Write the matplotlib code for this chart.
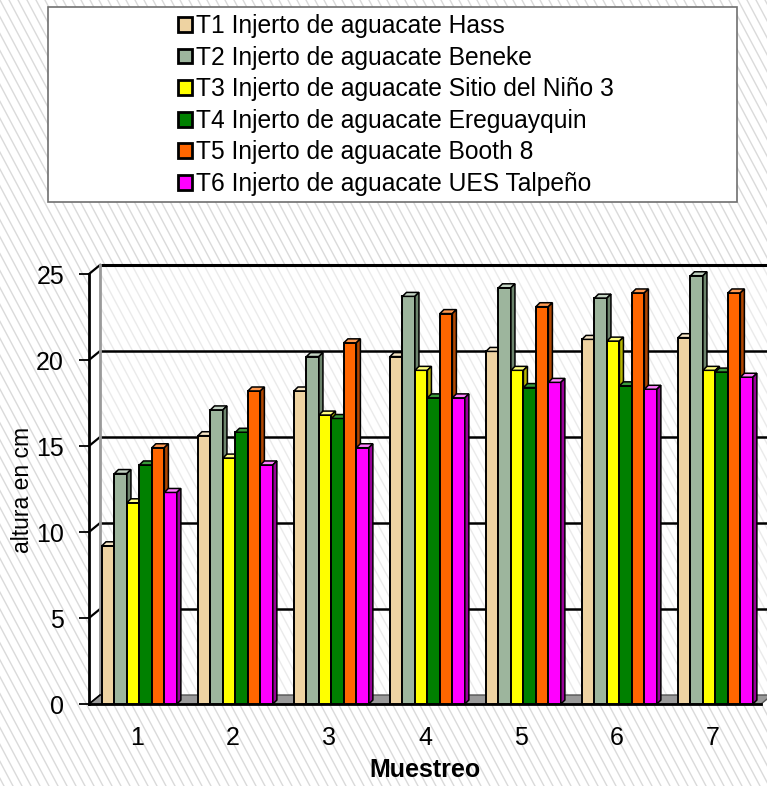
import numpy as np
import matplotlib
matplotlib.use('Agg')
import matplotlib.pyplot as plt
from matplotlib.patches import Polygon, Rectangle, Patch

plt.rcParams['font.family'] = ['Liberation Sans', 'DejaVu Sans']

# datos (altura en cm por muestreo)
muestreos = ['1', '2', '3', '4', '5', '6', '7']
t1 = [9.2, 15.6, 18.2, 20.2, 20.5, 21.2, 21.3]
t2 = [13.4, 17.1, 20.2, 23.7, 24.2, 23.6, 24.9]
t3 = [11.7, 14.3, 16.8, 19.4, 19.4, 21.1, 19.4]
t4 = [13.9, 15.8, 16.6, 17.8, 18.4, 18.5, 19.3]
t5 = [14.9, 18.2, 21.0, 22.7, 23.1, 23.9, 23.9]
t6 = [12.3, 13.9, 14.9, 17.8, 18.7, 18.3, 19.0]
series = [t1, t2, t3, t4, t5, t6]

tratamientos = ['T1 Injerto de aguacate Hass',
                'T2 Injerto de aguacate Beneke',
                'T3 Injerto de aguacate Sitio del Niño 3',
                'T4 Injerto de aguacate Ereguayquin',
                'T5 Injerto de aguacate Booth 8',
                'T6 Injerto de aguacate UES Talpeño']

colores = ['#EED3A2', '#9DB59D', '#FFFF00', '#008000', '#FF6600', '#FF00FF']
topes = ['#F7E6C6', '#C3D3C3', '#FFFF80', '#3A9A3A', '#FF9950', '#FF80FF']
lados = ['#B59B6E', '#6C846C', '#B5B500', '#004C00', '#B04600', '#990099']

# geometria pseudo 3D
W = 0.13          # ancho de barra
BDX, BDY = 0.042, 0.23   # profundidad de barra
WDX, WDY = 0.115, 0.523  # profundidad de pared
XMIN, XMAX = -0.5, 6.5

fig = plt.figure(figsize=(7.67, 7.86), dpi=100)
fig.patch.set_facecolor('white')

# fondo rayado
bg = fig.add_axes([0, 0, 1, 1], zorder=-1)
bg.set_xlim(0, 767)
bg.set_ylim(786, 0)
bg.axis('off')
for c in np.arange(-450, 770, 9):
    bg.plot([c, c + 418], [0, 786], color='#dadada', lw=1.0)

ax = fig.add_axes([89 / 767, 82 / 786, 672 / 767, 430 / 786])
ax.set_facecolor('none')
ax.set_xlim(XMIN, XMAX)
ax.set_ylim(0, 25)
for s in ax.spines.values():
    s.set_visible(False)

# paredes
ax.add_patch(Polygon([(XMIN + WDX, WDY), (XMAX + WDX, WDY), (XMAX + WDX, 25 + WDY),
                      (XMIN + WDX, 25 + WDY)], closed=True, fc='white', alpha=0.45,
                     ec='none', zorder=0.5, clip_on=False))
ax.add_patch(Polygon([(XMIN, 0), (XMIN + WDX, WDY), (XMIN + WDX, 25 + WDY), (XMIN, 25)],
                     closed=True, fc='white', ec='none', zorder=0.6, clip_on=False))
# piso
ax.add_patch(Polygon([(XMIN, 0), (XMAX, 0), (XMAX + WDX, WDY), (XMIN + WDX, WDY)],
                     closed=True, fc='#9a9a9a', ec='#555555', lw=1, zorder=2, clip_on=False))

# lineas de division
for v in range(5, 26, 5):
    lw = 2.2 if v == 25 else 1.8
    ax.plot([XMIN + WDX, XMAX + WDX], [v + WDY, v + WDY], color='black', lw=lw,
            zorder=1, clip_on=False, solid_capstyle='butt')
    ax.plot([XMIN, XMIN + WDX], [v, v + WDY], color='black', lw=1.6, zorder=1, clip_on=False)
ax.plot([XMIN + WDX, XMIN + WDX], [WDY, 25 + WDY], color='#9a9a9a', lw=2, zorder=1.2,
        clip_on=False)
ax.plot([XMIN, XMIN], [0, 25], color='black', lw=2, zorder=10, clip_on=False)
ax.plot([XMIN, XMAX], [0, 0], color='black', lw=2, zorder=2.5, clip_on=False)
ax.plot([XMIN, XMIN + WDX], [0, WDY], color='black', lw=1.2, zorder=2.5, clip_on=False)

# barras
x0 = np.arange(len(muestreos)) - 0.365
for i, vals in enumerate(series):
    z = 3 + i
    xs = x0 + i * W
    ax.bar(xs, vals, width=W, align='edge', color=colores[i], edgecolor='black',
           lw=1.4, zorder=z)
    for x, v in zip(xs, vals):
        ax.add_patch(Polygon([(x, v), (x + W, v), (x + W + BDX, v + BDY), (x + BDX, v + BDY)],
                             closed=True, fc=topes[i], ec='black', lw=1.1, zorder=z,
                             clip_on=False))
        ax.add_patch(Polygon([(x + W, 0), (x + W + BDX, BDY), (x + W + BDX, v + BDY), (x + W, v)],
                             closed=True, fc=lados[i], ec='black', lw=1.1, zorder=z,
                             clip_on=False))

ax.set_yticks(range(0, 26, 5))
ax.set_xticks(range(len(muestreos)))
ax.set_xticklabels(muestreos)
ax.tick_params(axis='y', length=7, width=1.3, pad=11, labelsize=18, direction='out')
ax.tick_params(axis='x', length=0, pad=16, labelsize=18)

fig.text(23 / 767, 1 - 490 / 786, 'altura en cm', rotation=90, ha='center', va='center',
         fontsize=16.5)
fig.text(425 / 767, 1 - 770 / 786, 'Muestreo', ha='center', va='center', fontsize=18,
         fontweight='bold')

# leyenda
fig.patches.append(Rectangle((48 / 767, 1 - 202 / 786), 689 / 767, 195 / 786,
                             transform=fig.transFigure, fc='white', ec='#707070', lw=1.2))
handles = [Patch(facecolor=c, edgecolor='black', lw=2) for c in colores]
fig.legend(handles, tratamientos, loc='upper left', bbox_to_anchor=(178 / 767, 1 - 14 / 786),
           frameon=False, fontsize=17.7, handlelength=0.55, handleheight=0.55,
           handletextpad=0.2, labelspacing=0.31, borderpad=0, borderaxespad=0)

fig.savefig('out.png', dpi=100)
